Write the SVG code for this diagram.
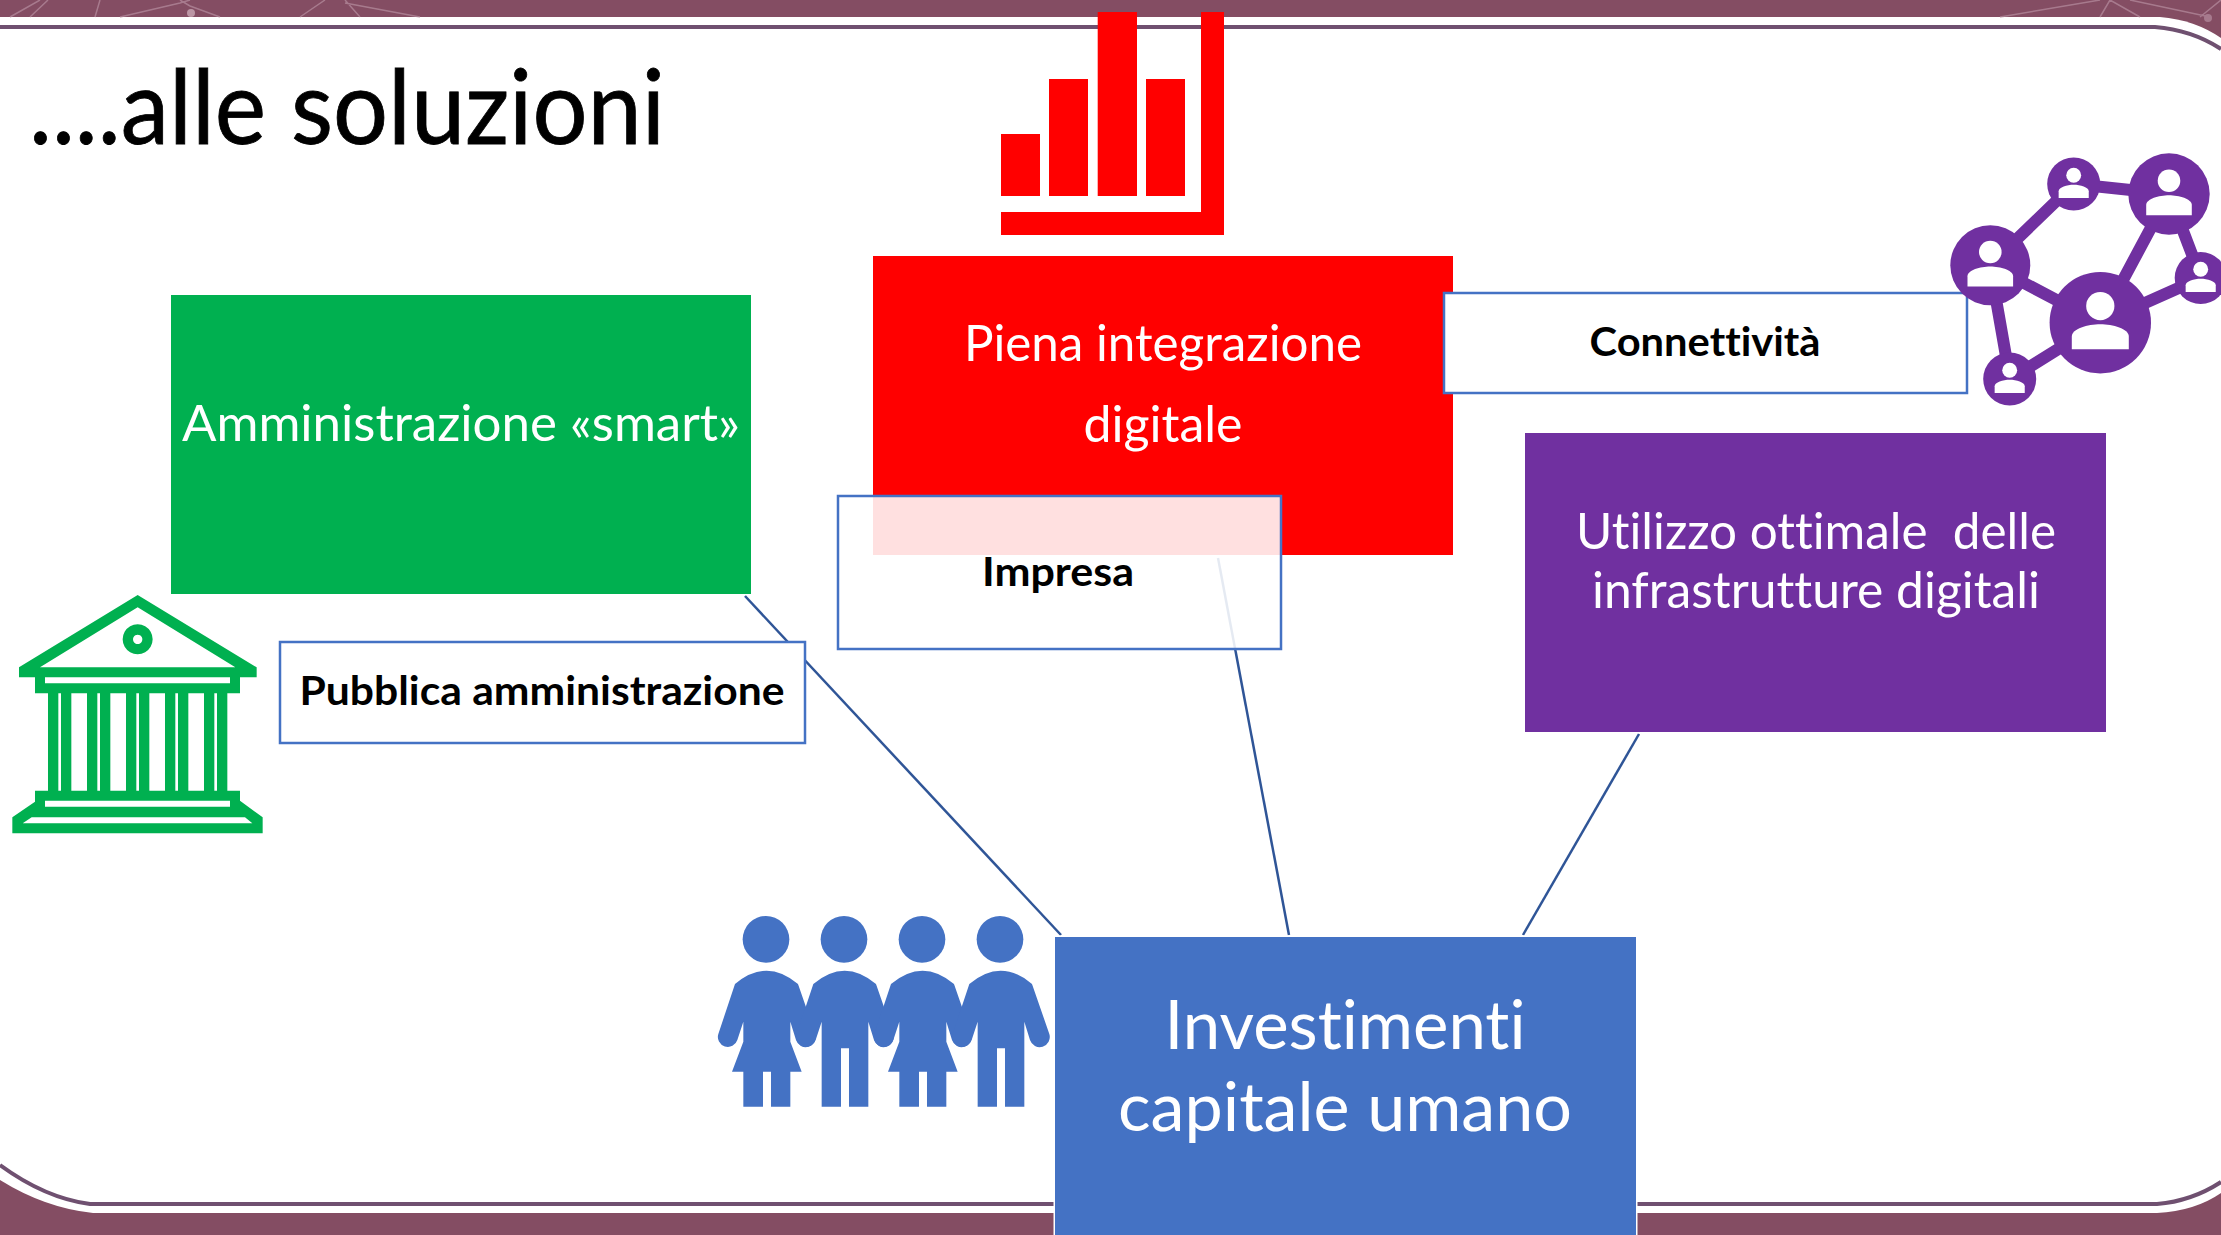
<svg xmlns="http://www.w3.org/2000/svg" width="2221" height="1235" viewBox="0 0 2221 1235">
<style>
text{font-family:Lato,"Liberation Sans",sans-serif;font-variant-ligatures:none}
.w{fill:#fff;font-size:50px;text-anchor:middle}
.xl{font-size:68px}
.b{fill:#000;font-size:40px;font-weight:700;text-anchor:middle}
.lbl{stroke:#4472c4;stroke-width:2.5;fill:#fff}
.c{stroke:#2f5597;stroke-width:2.5;fill:none}
.net{stroke:#7030a0;stroke-width:12;fill:none}
.tex{stroke:#b78ea0;stroke-width:1.5;fill:none;opacity:.7}
</style>
<defs>
<g id="person"><circle cy="-13.3" r="11.3" fill="#fff"/><path d="M-22.8 21.3V11C-22.8 5-10 1.3 0 1.3S22.8 5 22.8 11V21.3Z" fill="#fff"/></g>
<path id="woman" d="M105 252Q200 172 294 252L346 402A29 29 0 0 1 288 420L271 365V425L305 515H271V620H213V515H189V620H130V515H96L130 425V365L112 420A29 29 0 0 1 55 402Z"/>
<path id="man" d="M340 252Q434 172 528 252L580 402A29 29 0 0 1 522 420L505 365V620H447V445H423V620H365V365L347 420A29 29 0 0 1 290 402Z"/>
</defs>
<g id="background">
<rect width="2221" height="1235" fill="#844d63"/>
<path d="M0 17H2160Q2195 20 2221 38V1193Q2195 1211 2157 1213H93Q45 1208 0 1180Z" fill="#fff"/>
<path d="M0 27H2155Q2192 30 2221 49M2221 1182Q2192 1201 2157 1204H90Q45 1198 0 1165" fill="none" stroke="#6f5070" stroke-width="4"/>
<g class="tex">
<path d="M10 17L40 0M30 17L48 0M95 17L100 0M120 17L180 3L190 0M190 6L220 17M190 6L180 0M300 17L325 0M345 0L360 17M345 3L420 17M2000 17L2100 0M2100 17L2110 0M2110 0L2140 17M2130 0L2210 17M2200 17L2221 0"/>
<circle cx="191" cy="13" r="4" fill="#d4b5c2" stroke="none"/><circle cx="2208" cy="18" r="4" fill="#b78ea0" stroke="none"/>
</g>
</g>
<text x="29" y="144" font-size="102" fill="#000" stroke="#000" stroke-width=".8" textLength="636" lengthAdjust="spacingAndGlyphs" id="title">....alle soluzioni</text>
<g id="connectors">
<path class="c" d="M745 596L1061 935"/>
<path class="c" d="M1218 558L1289 935"/>
<path class="c" d="M1639 734L1523 935"/>
</g>
<g id="node-amministrazione"><rect x="171" y="295" width="580" height="299" fill="#00b050"/><text class="w" x="461" y="441" textLength="558" lengthAdjust="spacingAndGlyphs">Amministrazione «smart»</text></g>
<g id="node-integrazione"><rect x="873" y="256" width="580" height="299" fill="#f00"/><text class="w" x="1163" y="361" textLength="398" lengthAdjust="spacingAndGlyphs">Piena integrazione</text><text class="w" x="1163" y="442" textLength="159" lengthAdjust="spacingAndGlyphs">digitale</text></g>
<g id="node-infrastrutture"><rect x="1525" y="433" width="581" height="299" fill="#7030a0"/><text class="w" x="1816" y="549" textLength="480" lengthAdjust="spacingAndGlyphs">Utilizzo ottimale &#160;delle</text><text class="w" x="1816" y="608" textLength="448" lengthAdjust="spacingAndGlyphs">infrastrutture digitali</text></g>
<g id="node-capitale"><rect x="1053.5" y="935.5" width="584" height="303" fill="#fff"/><rect x="1055" y="937" width="581" height="298" fill="#4472c4"/><text class="w xl" x="1345" y="1049" textLength="361" lengthAdjust="spacingAndGlyphs">Investimenti</text><text class="w xl" x="1345" y="1131" textLength="454" lengthAdjust="spacingAndGlyphs">capitale umano</text></g>
<g id="label-connettivita"><rect class="lbl" x="1444" y="293" width="523" height="100"/><text class="b" x="1705" y="356" textLength="231" lengthAdjust="spacingAndGlyphs">Connettività</text></g>
<g id="label-impresa"><rect class="lbl" x="838" y="496" width="443" height="153" style="fill-opacity:.88"/><text class="b" x="1058" y="586" textLength="152" lengthAdjust="spacingAndGlyphs">Impresa</text></g>
<g id="label-pubblica"><rect class="lbl" x="280" y="642" width="525" height="101"/><text class="b" x="542" y="705" textLength="485" lengthAdjust="spacingAndGlyphs">Pubblica amministrazione</text></g>
<g id="icon-chart" fill="#f00">
<rect x="1001" y="134" width="39" height="62"/><rect x="1049" y="79" width="39" height="117"/><rect x="1097.7" y="12" width="39.3" height="184"/><rect x="1146" y="79" width="39" height="117"/>
<path d="M1201 12H1224V235H1001V212H1201Z"/>
</g>
<g id="icon-network">
<path class="net" d="M1990 265L2074 184L2169 194L2100 323L1990 265L2010 379L2100 323L2201 278L2169 194"/>
<g fill="#7030a0"><circle cx="1990.3" cy="265.3" r="40"/><circle cx="2073.7" cy="184" r="26.5"/><circle cx="2169" cy="194" r="40.7"/><circle cx="2200.7" cy="278" r="26"/><circle cx="2100.3" cy="322.7" r="50.7"/><circle cx="2009.7" cy="379" r="26.5"/></g>
<use href="#person" transform="translate(1990.3 265.3)"/>
<use href="#person" transform="translate(2073.7 184) scale(.66)"/>
<use href="#person" transform="translate(2169 194)"/>
<use href="#person" transform="translate(2200.7 278) scale(.66)"/>
<use href="#person" transform="translate(2100.3 322.7) scale(1.25)"/>
<use href="#person" transform="translate(2009.7 379) scale(.66)"/>
</g>
<g id="icon-bank" fill="#00b050" transform="translate(0 580) scale(.33333)">
<path fill-rule="evenodd" d="M413 45L770 262V292H720V340H682V632H720V662L788 712V760H37V712L105 665V632H144V340H105V292H57V262ZM413 82L120 262H706ZM135 292V310H690V292ZM175 340V632H183V340ZM214 340V632H261V340ZM292 340V632H300V340ZM331 340V632H378V340ZM409 340V632H417V340ZM448 340V632H495V340ZM526 340V632H534V340ZM565 340V632H612V340ZM643 340V632H651V340ZM135 662V680H690V662ZM95 712L68 730H757L735 712Z"/>
<path fill-rule="evenodd" d="M413 133A45 45 0 1 1 412.9 133ZM413 164A14 14 0 1 0 413.1 164Z"/>
</g>
<g id="icon-people" fill="#4472c4" transform="translate(700 900) scale(.33333)">
<circle cx="198" cy="118" r="70"/><circle cx="432" cy="118" r="70"/><circle cx="666" cy="118" r="70"/><circle cx="900" cy="118" r="70"/>
<use href="#woman"/><use href="#man"/><use href="#woman" x="468"/><use href="#man" x="468"/>
</g>
</svg>
